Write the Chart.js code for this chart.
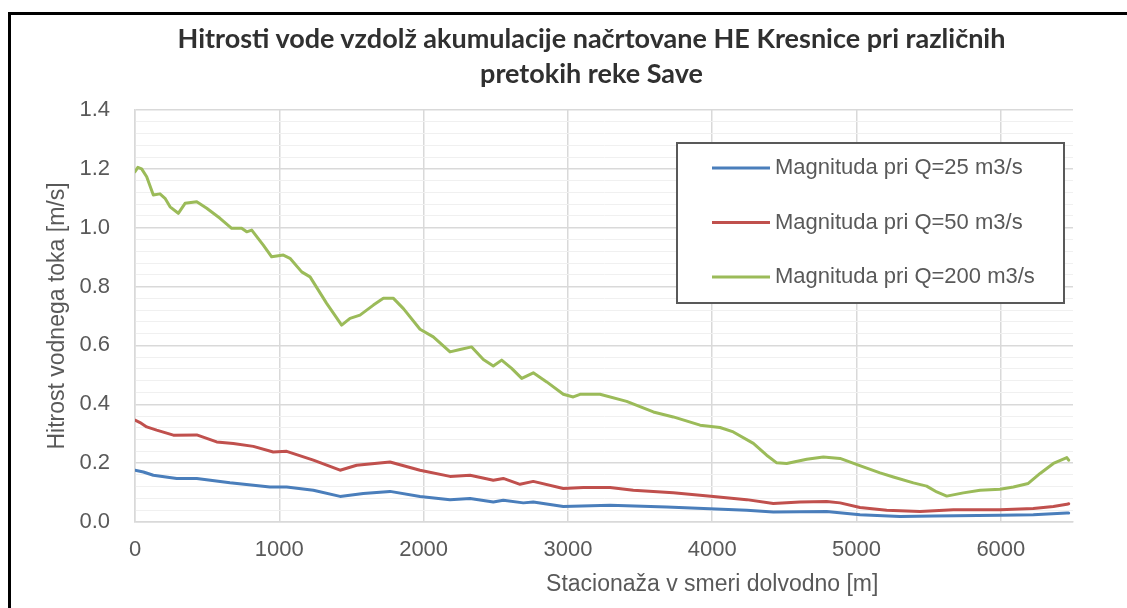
<!DOCTYPE html>
<html>
<head>
<meta charset="utf-8">
<script src="https://cdn.jsdelivr.net/npm/chart.js@4/dist/chart.umd.min.js"></script>
<style>
  body { margin: 0; background: #fff; width: 1127px; height: 608px; overflow: hidden; position: relative; }
  #frame { position: absolute; left: 8px; top: 12px; width: 1200px; height: 700px; border-top: 3px solid #000; border-left: 3px solid #000; }
  #title { position: absolute; left: 0; top: 20px; width: 1183px; text-align: center; font: bold 27px Lato, "Open Sans", sans-serif; color: #303030; line-height: 35px; }
  #chart { position: absolute; left: 0; top: 0; }
</style>
</head>
<body>
<div id="frame"></div>
<canvas id="chart" width="1127" height="608"></canvas>
<div id="title">Hitrosti vode vzdolž akumulacije načrtovane HE Kresnice pri različnih<br>pretokih reke Save</div>
<script>
// stacionaža [m] in hitrost [m/s] za vsak pretok
const stacQ25 = [0, 58, 127, 289, 428, 658, 935, 1051, 1236, 1421, 1582, 1767, 1975, 2183, 2322, 2483, 2552, 2691, 2760, 2968, 3292, 3684, 4239, 4423, 4793, 5024, 5302, 5533, 5994, 6225, 6457, 6470];
const velQ25 = [0.176, 0.170, 0.159, 0.148, 0.148, 0.133, 0.119, 0.119, 0.108, 0.087, 0.097, 0.104, 0.087, 0.076, 0.080, 0.068, 0.074, 0.065, 0.068, 0.053, 0.057, 0.051, 0.040, 0.034, 0.036, 0.025, 0.019, 0.020, 0.023, 0.025, 0.031, 0.031];

const stacQ50 = [0, 35, 81, 150, 266, 428, 566, 681, 820, 958, 1051, 1236, 1421, 1536, 1767, 1975, 2183, 2322, 2483, 2552, 2668, 2760, 2968, 3107, 3292, 3453, 3730, 4008, 4239, 4423, 4608, 4793, 4886, 5024, 5209, 5440, 5671, 5994, 6225, 6364, 6457, 6470];
const velQ50 = [0.346, 0.338, 0.323, 0.312, 0.295, 0.296, 0.272, 0.267, 0.257, 0.238, 0.240, 0.210, 0.176, 0.193, 0.204, 0.176, 0.155, 0.159, 0.142, 0.148, 0.128, 0.138, 0.114, 0.117, 0.117, 0.108, 0.099, 0.087, 0.076, 0.063, 0.068, 0.070, 0.065, 0.049, 0.040, 0.036, 0.042, 0.042, 0.046, 0.053, 0.060, 0.062];

const stacQ200 = [0, 20, 46, 81, 127, 173, 208, 243, 300, 347, 428, 497, 589, 670, 739, 774, 809, 889, 947, 1028, 1074, 1155, 1213, 1328, 1432, 1490, 1559, 1652, 1721, 1791, 1860, 1975, 2067, 2183, 2252, 2333, 2414, 2483, 2541, 2610, 2680, 2760, 2853, 2968, 3037, 3084, 3222, 3407, 3592, 3730, 3916, 4054, 4146, 4285, 4377, 4447, 4516, 4655, 4770, 4886, 5013, 5163, 5255, 5394, 5486, 5556, 5625, 5740, 5856, 5994, 6087, 6190, 6272, 6364, 6457, 6470];
const velQ200 = [1.19, 1.205, 1.2, 1.173, 1.111, 1.115, 1.10, 1.071, 1.049, 1.083, 1.088, 1.066, 1.032, 0.998, 0.998, 0.986, 0.992, 0.941, 0.901, 0.907, 0.896, 0.850, 0.833, 0.743, 0.669, 0.692, 0.703, 0.737, 0.760, 0.760, 0.725, 0.655, 0.629, 0.578, 0.586, 0.595, 0.552, 0.530, 0.550, 0.522, 0.488, 0.507, 0.476, 0.434, 0.425, 0.434, 0.434, 0.410, 0.374, 0.357, 0.329, 0.321, 0.306, 0.267, 0.227, 0.201, 0.199, 0.213, 0.221, 0.216, 0.193, 0.167, 0.153, 0.133, 0.122, 0.102, 0.088, 0.099, 0.108, 0.111, 0.119, 0.131, 0.165, 0.199, 0.219, 0.210];

const seriesLabels = ["Magnituda pri Q=25 m3/s", "Magnituda pri Q=50 m3/s", "Magnituda pri Q=200 m3/s"];
const seriesColors = ["#4a7ebb", "#c0504d", "#9bbb59"];

const xTicks = [0, 1000, 2000, 3000, 4000, 5000, 6000];
const xTitle = "Stacionaža v smeri dolvodno [m]";
const yTitle = "Hitrost vodnega toka [m/s]";

const FONT = '"Liberation Sans Narrow", "Arial Narrow", "Liberation Sans", sans-serif';
const TEXT = "#595959";

const toPoints = (xs, ys) => xs.map((x, i) => ({ x, y: ys[i] }));
const isMajor = v => Math.abs(v / 0.2 - Math.round(v / 0.2)) < 1e-6;

// legenda v okvirju znotraj grafa
const boxLegend = {
  id: "boxLegend",
  beforeDatasetsDraw(chart) {
    const ctx = chart.ctx;
    ctx.save();
    ctx.fillStyle = "#fff";
    ctx.fillRect(677, 143, 387, 160);
    ctx.strokeStyle = "#595959";
    ctx.lineWidth = 2;
    ctx.strokeRect(677, 143, 387, 160);
    ctx.font = "22px " + FONT;
    ctx.textBaseline = "middle";
    chart.data.datasets.forEach((ds, i) => {
      const y = 168 + i * 54.5;
      ctx.strokeStyle = ds.borderColor;
      ctx.lineWidth = 3;
      ctx.beginPath();
      ctx.moveTo(712, y);
      ctx.lineTo(770, y);
      ctx.stroke();
      ctx.fillStyle = TEXT;
      ctx.fillText(ds.label, 775, y);
    });
    ctx.restore();
  }
};

// naslov osi x
const xCaption = {
  id: "xCaption",
  afterDraw(chart) {
    const ctx = chart.ctx;
    ctx.save();
    ctx.font = "23px " + FONT;
    ctx.fillStyle = TEXT;
    ctx.textAlign = "center";
    ctx.textBaseline = "middle";
    ctx.fillText(xTitle, chart.scales.x.getPixelForValue(4000), 585);
    ctx.restore();
  }
};

new Chart(document.getElementById("chart"), {
  type: "line",
  data: {
    datasets: [
      { label: seriesLabels[0], data: toPoints(stacQ25, velQ25), borderColor: seriesColors[0] },
      { label: seriesLabels[1], data: toPoints(stacQ50, velQ50), borderColor: seriesColors[1] },
      { label: seriesLabels[2], data: toPoints(stacQ200, velQ200), borderColor: seriesColors[2] }
    ]
  },
  options: {
    responsive: false,
    animation: false,
    devicePixelRatio: 1,
    layout: { padding: { top: 110, right: 54, bottom: 0, left: 0 } },
    elements: {
      line: { borderWidth: 3, tension: 0, borderCapStyle: "round", borderJoinStyle: "round" },
      point: { radius: 0 }
    },
    plugins: {
      legend: { display: false },
      title: { display: false },
      tooltip: { enabled: false }
    },
    scales: {
      x: {
        type: "linear",
        min: 0,
        max: 6500,
        afterFit: s => { s.height = 86; },
        afterBuildTicks: s => { s.ticks = xTicks.map(value => ({ value })); },
        ticks: {
          color: TEXT,
          font: { family: FONT, size: 22 },
          padding: 15,
          maxRotation: 0,
          autoSkip: false,
          callback: v => String(v)
        },
        grid: { color: "#d9d9d9", lineWidth: 1.5, drawTicks: false },
        border: { color: "#d9d9d9", width: 1.5 }
      },
      y: {
        min: 0,
        max: 1.4,
        afterFit: s => { s.width = 135; },
        title: {
          display: true,
          text: yTitle,
          color: TEXT,
          font: { family: FONT, size: 23 },
          padding: { top: 44, bottom: 0 }
        },
        ticks: {
          stepSize: 0.04,
          autoSkip: false,
          color: TEXT,
          font: { family: FONT, size: 22 },
          padding: 25,
          callback: v => isMajor(v) ? v.toFixed(1) : ""
        },
        grid: {
          drawTicks: false,
          color: c => isMajor(c.tick.value) ? "#d9d9d9" : "#f0f0f0",
          lineWidth: c => isMajor(c.tick.value) ? 1.5 : 1
        },
        border: { color: "#d9d9d9", width: 1.5 }
      }
    }
  },
  plugins: [boxLegend, xCaption]
});
</script>
</body>
</html>
